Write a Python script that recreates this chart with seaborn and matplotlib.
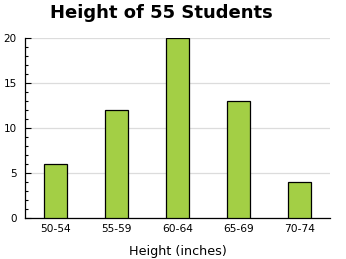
import matplotlib
matplotlib.use("Agg")
import matplotlib.pyplot as plt
import seaborn as sns
import pandas as pd
from matplotlib.ticker import MultipleLocator

categories = ["50-54", "55-59", "60-64", "65-69", "70-74"]
counts = [6, 12, 20, 13, 4]
yticks = [0, 5, 10, 15, 20]

sns.set_theme(style="white")
plt.rcParams['font.family'] = ['DejaVu Sans']
plt.rcParams['text.color'] = 'black'
plt.rcParams['xtick.color'] = 'black'
plt.rcParams['ytick.color'] = 'black'
plt.rcParams['axes.labelcolor'] = 'black'

df = pd.DataFrame({"Height": categories, "Count": counts})

fig = plt.figure(figsize=(3.46, 2.59), dpi=100)
ax = fig.add_axes([25/346, 1-218/259, 305/346, 180/259])

sns.barplot(data=df, x="Height", y="Count", color="#a3cf45", saturation=1,
            width=0.39, edgecolor="black", linewidth=0.9, ax=ax, zorder=3)

ax.set_xlim(-0.5, 4.5)
ax.set_ylim(0, 20)
ax.set_yticks(yticks)
ax.yaxis.set_minor_locator(MultipleLocator(1))
ax.grid(axis="y", which="major", color="#dcdcdc", linewidth=0.9, zorder=0)
ax.set_axisbelow(True)

for s in ["top", "right"]:
    ax.spines[s].set_visible(False)
for s in ["left", "bottom"]:
    ax.spines[s].set_color("black")
    ax.spines[s].set_linewidth(0.9)

ax.tick_params(axis="y", which="major", direction="in", length=4, width=0.8,
               color="black", labelsize=7.5, pad=6, left=True)
ax.tick_params(axis="y", which="minor", direction="in", length=2.5, width=0.8,
               color="black", left=True)
ax.tick_params(axis="x", which="both", length=0, labelsize=7.7, pad=4)

ax.set_ylabel("")
ax.set_xlabel("Height (inches)", fontsize=9.2, labelpad=8, color="black")

fig.text(161/346, 1-13/259, "Height of 55 Students", ha="center", va="center",
         fontsize=13, fontweight="bold", color="black")

fig.savefig("out.png", dpi=100)
